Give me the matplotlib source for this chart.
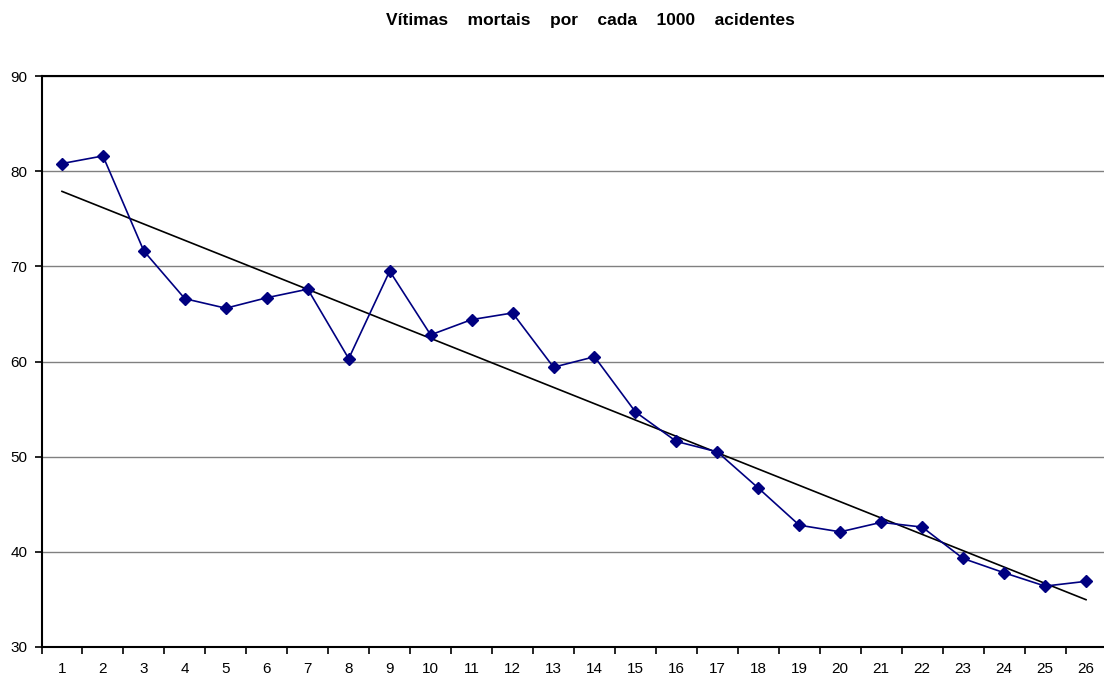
import numpy as np
import matplotlib
matplotlib.use("Agg")
import matplotlib.pyplot as plt

categories = list(range(1, 27))
values = [80.8, 81.6, 71.6, 66.6, 65.6, 66.7, 67.6, 60.3, 69.5, 62.8,
          64.4, 65.1, 59.4, 60.5, 54.7, 51.6, 50.5, 46.7, 42.8, 42.1,
          43.1, 42.6, 39.3, 37.8, 36.4, 36.9]
y_ticks = [30, 40, 50, 60, 70, 80, 90]
title = "Vítimas    mortais    por    cada    1000    acidentes"

plt.rcParams['font.family'] = ['Liberation Sans', 'DejaVu Sans']

W, H = 1104, 681
fig = plt.figure(figsize=(W / 100, H / 100), dpi=100)
ax = fig.add_axes([41.5 / W, 34 / H, 1065 / W, 571 / H])

x = np.array(categories, dtype=float)
y = np.array(values)

# linear trend line
k, b = np.polyfit(x, y, 1)
ax.plot(x, k * x + b, color='black', lw=1.2, zorder=3)

ax.plot(x, y, color='#000080', lw=1.2, marker='D', markersize=6.5,
        markerfacecolor='#000080', markeredgecolor='#000080', zorder=4)

ax.set_xlim(0.5, 26.5)
ax.set_ylim(30, 90)
ax.set_yticks(y_ticks)
ax.set_yticklabels([str(v) for v in y_ticks])
ax.yaxis.grid(True, color='#808080', lw=1.0)
ax.set_axisbelow(True)

ax.set_xticks(x)
ax.set_xticklabels([str(c) for c in categories])
ax.tick_params(axis='x', which='major', length=0, pad=11, labelsize=11)
ax.set_xticks(np.arange(0.5, 27, 1.0), minor=True)
ax.tick_params(axis='x', which='minor', length=5, width=1.2, direction='out')
ax.tick_params(axis='y', length=5, width=1.2, direction='out', labelsize=11, pad=5)

for s in ['left', 'bottom', 'top']:
    ax.spines[s].set_linewidth(1.5)
    ax.spines[s].set_color('black')
ax.spines['right'].set_visible(False)

fig.text(590 / W, 1 - 20 / H, title, ha='center', va='center',
         fontsize=12.5, fontweight='bold')

fig.savefig('out.png', dpi=100)
